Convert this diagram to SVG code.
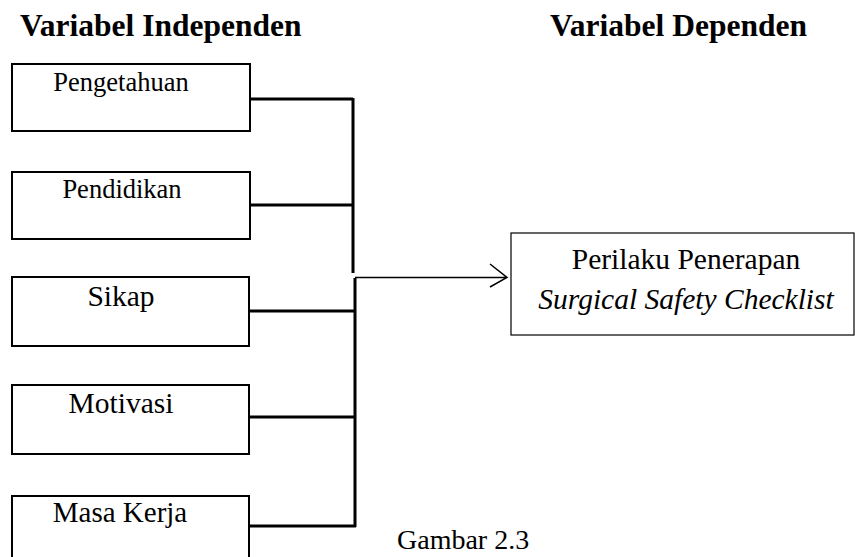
<svg xmlns="http://www.w3.org/2000/svg" width="855" height="557" viewBox="0 0 855 557">
<style>
  .title { font-family: "Liberation Serif", "Times New Roman", serif; font-weight: bold; font-size: 31.5px; fill: #000; }
  .lbl { font-family: "Liberation Serif", "Times New Roman", serif; fill: #000; text-anchor: middle; }
  .box { fill: #fff; stroke: #000; stroke-width: 2; }
  .tbox { fill: #fff; stroke: #000; stroke-width: 1.2; }
  .conn { fill: none; stroke: #000; stroke-width: 3; }
  .arrow { fill: none; stroke: #000; stroke-width: 1.5; }
</style>
<rect width="855" height="557" fill="#fff"/>
<text class="title" x="20" y="36">Variabel Independen</text>
<text class="title" x="550" y="36">Variabel Dependen</text>

<g id="connectors">
  <path class="conn" d="M250,99 H353 M250,205 H353 M353,98 V273"/>
  <path class="conn" d="M250,311 H356 M250,417 H356 M250,526 H356 M355,278 V527"/>
  <path class="arrow" d="M355,277.5 H507 M490,264 L507,277.5 L490,287"/>
</g>

<g id="pengetahuan">
  <rect class="box" x="12" y="64" width="238" height="67"/>
  <text class="lbl" x="121" y="91" font-size="26.5">Pengetahuan</text>
</g>
<g id="pendidikan">
  <rect class="box" x="12" y="172" width="238" height="67"/>
  <text class="lbl" x="122" y="198" font-size="26.5">Pendidikan</text>
</g>
<g id="sikap">
  <rect class="box" x="12" y="277" width="237" height="69"/>
  <text class="lbl" x="121" y="306" font-size="29.5">Sikap</text>
</g>
<g id="motivasi">
  <rect class="box" x="12" y="385" width="237" height="69"/>
  <text class="lbl" x="121" y="413" font-size="29.5">Motivasi</text>
</g>
<g id="masa-kerja">
  <rect class="box" x="12" y="496" width="237" height="80"/>
  <text class="lbl" x="120" y="522" font-size="29">Masa Kerja</text>
</g>
<g id="perilaku">
  <rect class="tbox" x="511" y="233" width="343" height="102"/>
  <text class="lbl" x="686" y="269" font-size="29.5">Perilaku Penerapan</text>
  <text class="lbl" x="686" y="309" font-size="29.5" font-style="italic">Surgical Safety Checklist</text>
</g>
<text x="397" y="549" font-family="Liberation Serif, Times New Roman, serif" font-size="28" fill="#000">Gambar 2.3</text>
</svg>
